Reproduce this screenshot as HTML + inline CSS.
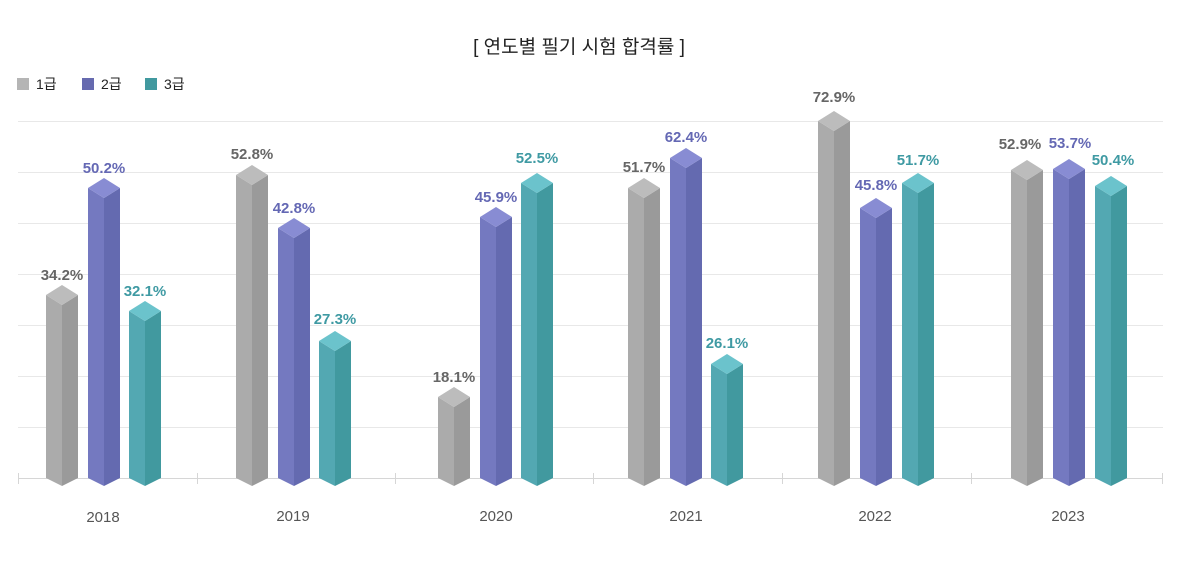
<!DOCTYPE html>
<html><head><meta charset="utf-8"><style>
html,body{margin:0;padding:0;background:#fff;width:1180px;height:573px;overflow:hidden}
svg text{font-family:"Liberation Sans","Noto Sans CJK KR",sans-serif}
</style></head><body>
<svg id="s" width="1180" height="573" viewBox="0 0 1180 573" xmlns="http://www.w3.org/2000/svg">
<text x="579" y="53" font-size="19" fill="#222" text-anchor="middle">[ 연도별 필기 시험 합격률 ]</text>
<rect x="17" y="78" width="12" height="12" fill="#b5b5b5"/>
<text x="36" y="89" font-size="14" fill="#222">1급</text>
<rect x="82" y="78" width="12" height="12" fill="#666aaf"/>
<text x="101" y="89" font-size="14" fill="#222">2급</text>
<rect x="145" y="78" width="12" height="12" fill="#41999f"/>
<text x="164" y="89" font-size="14" fill="#222">3급</text>
<g stroke="#e8e8e8" stroke-width="1">
<line x1="18" x2="1163" y1="121.5" y2="121.5"/>
<line x1="18" x2="1163" y1="172.5" y2="172.5"/>
<line x1="18" x2="1163" y1="223.5" y2="223.5"/>
<line x1="18" x2="1163" y1="274.5" y2="274.5"/>
<line x1="18" x2="1163" y1="325.5" y2="325.5"/>
<line x1="18" x2="1163" y1="376.5" y2="376.5"/>
<line x1="18" x2="1163" y1="427.5" y2="427.5"/>
</g>
<g stroke="#d6d6d6" stroke-width="1">
<line x1="18" x2="1163" y1="478.5" y2="478.5"/>
<line x1="18.5" x2="18.5" y1="473" y2="484"/>
<line x1="197.5" x2="197.5" y1="473" y2="484"/>
<line x1="395.5" x2="395.5" y1="473" y2="484"/>
<line x1="593.5" x2="593.5" y1="473" y2="484"/>
<line x1="782.5" x2="782.5" y1="473" y2="484"/>
<line x1="971.5" x2="971.5" y1="473" y2="484"/>
<line x1="1162.5" x2="1162.5" y1="473" y2="484"/>
</g>
<g id="bars"></g>
<g font-size="15" text-anchor="middle" font-weight="600">
<text x="62" y="280" fill="#666">34.2%</text>
<text x="104" y="173" fill="#6468b4">50.2%</text>
<text x="145" y="296" fill="#3f9aa3">32.1%</text>
<text x="252" y="159" fill="#666">52.8%</text>
<text x="294" y="213" fill="#6468b4">42.8%</text>
<text x="335" y="324" fill="#3f9aa3">27.3%</text>
<text x="454" y="382" fill="#666">18.1%</text>
<text x="496" y="202" fill="#6468b4">45.9%</text>
<text x="537" y="163" fill="#3f9aa3">52.5%</text>
<text x="644" y="172" fill="#666">51.7%</text>
<text x="686" y="142" fill="#6468b4">62.4%</text>
<text x="727" y="348" fill="#3f9aa3">26.1%</text>
<text x="834" y="102" fill="#666">72.9%</text>
<text x="876" y="190" fill="#6468b4">45.8%</text>
<text x="918" y="165" fill="#3f9aa3">51.7%</text>
<text x="1020" y="149" fill="#666">52.9%</text>
<text x="1070" y="148" fill="#6468b4">53.7%</text>
<text x="1113" y="165" fill="#3f9aa3">50.4%</text>
</g>
<g font-size="15" fill="#555" text-anchor="middle">
<text x="103" y="522">2018</text>
<text x="293" y="521">2019</text>
<text x="496" y="521">2020</text>
<text x="686" y="521">2021</text>
<text x="875" y="521">2022</text>
<text x="1068" y="521">2023</text>
</g>
</svg>
<script>
var C=[["#ababab","#9a9a9a","#bcbcbc"],["#7479c0","#646ab0","#888cd3"],["#53a8b2","#41999f","#6bc3cc"]];
var B=[[46,0,285],[88,1,178],[129,2,301],[236,0,165],[278,1,218],[319,2,331],[438,0,387],[480,1,207],[521,2,173],
[628,0,178],[670,1,148],[711,2,354],[818,0,111],[860,1,198],[902,2,173],[1011,0,160],[1053,1,159],[1095,2,176]];
var g=document.getElementById("bars"),h="";
B.forEach(function(b){var x=b[0],c=C[b[1]],a=b[2],m=x+16,r=x+32,s=a+10,f=a+20;
h+='<polygon points="'+x+','+s+' '+m+','+f+' '+m+',486 '+x+',478" fill="'+c[0]+'"/>';
h+='<polygon points="'+m+','+f+' '+r+','+s+' '+r+',478 '+m+',486" fill="'+c[1]+'"/>';
h+='<polygon points="'+x+','+s+' '+m+','+a+' '+r+','+s+' '+m+','+f+'" fill="'+c[2]+'"/>';});
g.innerHTML=h;
</script>
</body></html>
